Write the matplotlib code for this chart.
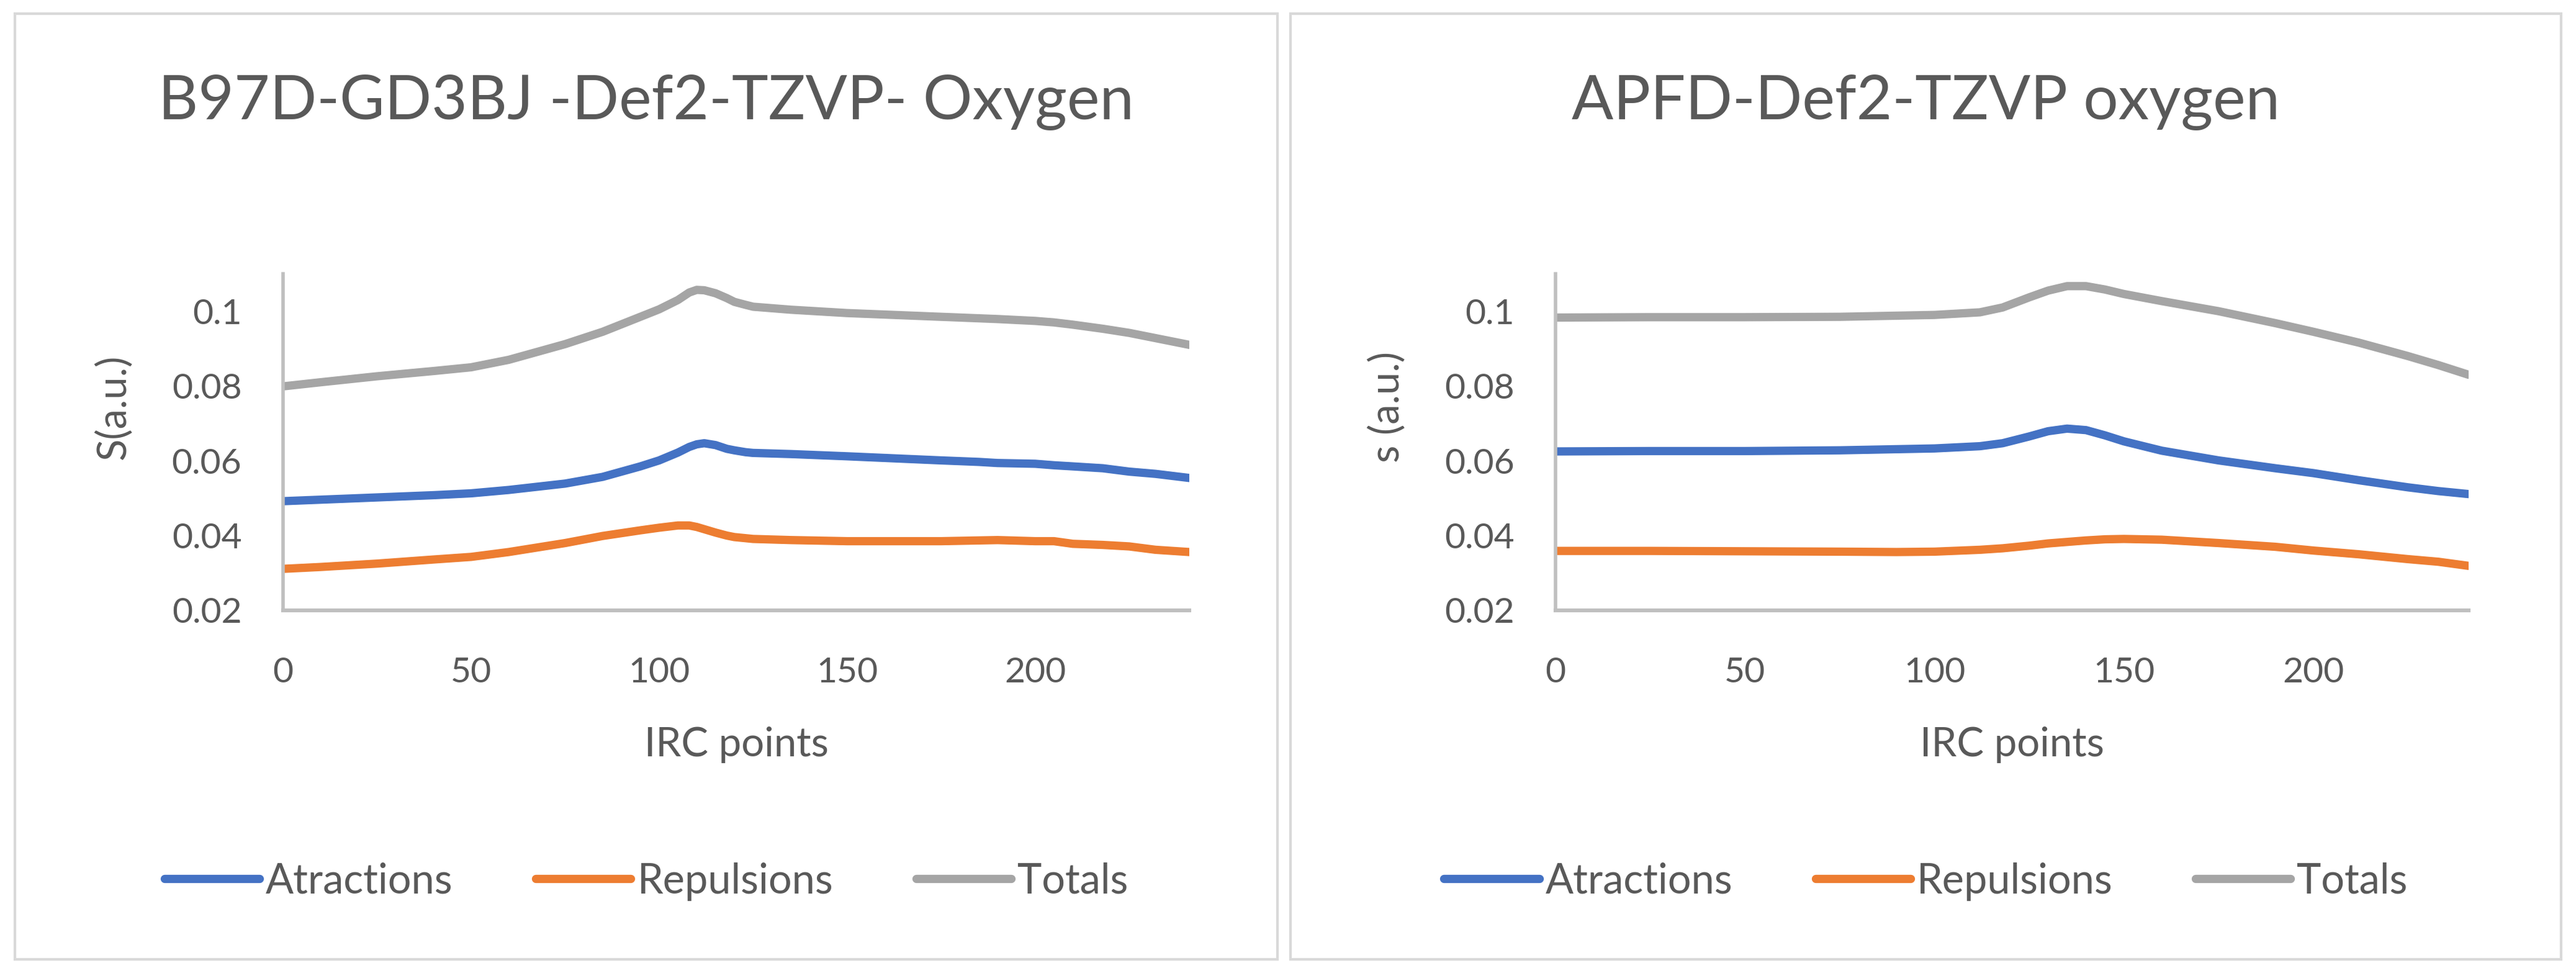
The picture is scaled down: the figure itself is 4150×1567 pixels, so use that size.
import matplotlib
matplotlib.use("Agg")
import matplotlib.pyplot as plt
from matplotlib.patches import Rectangle

plt.rcParams['font.family'] = ['Lato', 'DejaVu Sans']

# B97D-GD3BJ panel
x_b97 = [0, 10, 25, 40, 50, 60, 75, 85, 95, 100, 105, 108, 110, 112, 115, 118, 120,
         123, 125, 135, 150, 175, 185, 190, 200, 205, 210, 218, 225, 232, 241]
atr_b97 = [0.0492, 0.0496, 0.0502, 0.0508, 0.0513, 0.0522, 0.0539, 0.0557, 0.0585, 0.0601,
           0.0622, 0.0637, 0.0644, 0.0647, 0.0642, 0.0632, 0.0628, 0.0623, 0.0621, 0.0618,
           0.0612, 0.0601, 0.0597, 0.0594, 0.0592, 0.0588, 0.0585, 0.0580, 0.0571, 0.0565, 0.0554]
rep_b97 = [0.0311, 0.0316, 0.0325, 0.0336, 0.0343, 0.0356, 0.0380, 0.0399, 0.0414, 0.0421,
           0.0427, 0.0427, 0.0423, 0.0417, 0.0408, 0.0400, 0.0396, 0.0393, 0.0391, 0.0388,
           0.0385, 0.0385, 0.0387, 0.0388, 0.0385, 0.0385, 0.0378, 0.0375, 0.0371, 0.0362, 0.0356]
tot_b97 = [0.0799, 0.0810, 0.0826, 0.0840, 0.0850, 0.0870, 0.0912, 0.0945, 0.0985, 0.1005,
           0.1030, 0.1050, 0.1057, 0.1056, 0.1048, 0.1035, 0.1025, 0.1017, 0.1012, 0.1004,
           0.0995, 0.0985, 0.0981, 0.0979, 0.0974, 0.0970, 0.0964, 0.0953, 0.0942, 0.0928, 0.0910]

# APFD panel
x_apfd = [0, 25, 50, 75, 90, 100, 112, 118, 125, 130, 135, 140, 145, 150, 160, 175,
          190, 200, 212, 225, 233, 241]
atr_apfd = [0.0625, 0.0626, 0.0626, 0.0628, 0.0631, 0.0633, 0.0639, 0.0647, 0.0665, 0.0679,
            0.0686, 0.0682, 0.0668, 0.0652, 0.0627, 0.0601, 0.0580, 0.0567, 0.0548, 0.0529,
            0.0519, 0.0511]
rep_apfd = [0.0359, 0.0359, 0.0358, 0.0357, 0.0356, 0.0357, 0.0362, 0.0366, 0.0373, 0.0379,
            0.0383, 0.0387, 0.0390, 0.0391, 0.0389, 0.0380, 0.0370, 0.0360, 0.0350, 0.0337,
            0.0330, 0.0319]
tot_apfd = [0.0983, 0.0984, 0.0984, 0.0985, 0.0988, 0.0990, 0.0997, 0.1010, 0.1037, 0.1055,
            0.1067, 0.1067, 0.1058, 0.1046, 0.1027, 0.1000, 0.0968, 0.0945, 0.0916, 0.0880,
            0.0856, 0.0830]

series_names = ['Atractions', 'Repulsions', 'Totals']
colors = ['#4472C4', '#ED7D31', '#A5A5A5']
x_ticks = [0, 50, 100, 150, 200]
y_ticks = [0.02, 0.04, 0.06, 0.08, 0.1]
y_tick_labels = ['0.02', '0.04', '0.06', '0.08', '0.1']

text_col = '#595959'

fig = plt.figure(figsize=(20.75, 7.835), dpi=200)

panels = [
    dict(title='B97D-GD3BJ -Def2-TZVP- Oxygen', ylabel='S(a.u.)', x=x_b97,
         ys=[atr_b97, rep_b97, tot_b97], rect=[0.1099, 0.3727, 0.3518, 0.3459],
         box=(0.0058, 0.4959), ylab_x=-0.188),
    dict(title='APFD-Def2-TZVP oxygen', ylabel='s (a.u.)', x=x_apfd,
         ys=[atr_apfd, rep_apfd, tot_apfd], rect=[0.6039, 0.3727, 0.3544, 0.3459],
         box=(0.5010, 0.9942), ylab_x=-0.185),
]

for p in panels:
    x0, x1 = p['box']
    fig.patches.append(Rectangle((x0, 0.014), x1 - x0, 0.972, transform=fig.transFigure,
                                 fill=False, edgecolor='#D9D9D9', linewidth=1.5))
    cx = (x0 + x1) / 2
    fig.text(cx, 0.895, p['title'], ha='center', va='center', fontsize=35.8, color=text_col)

    ax = fig.add_axes(p['rect'])
    for name, y, c in zip(series_names, p['ys'], colors):
        ax.plot(p['x'], y, color=c, linewidth=4.8, solid_capstyle='round', label=name)

    ax.set_xlim(0, 241)
    ax.set_ylim(0.02, 0.11)
    ax.set_xticks(x_ticks)
    ax.set_yticks(y_ticks)
    ax.set_yticklabels(y_tick_labels)
    ax.tick_params(length=0, labelsize=20.5, colors=text_col)
    ax.tick_params(axis='x', pad=27)
    ax.tick_params(axis='y', pad=24)
    for s in ['top', 'right']:
        ax.spines[s].set_visible(False)
    ax.spines['left'].set_color('#BFBFBF')
    ax.spines['left'].set_linewidth(2)
    ax.spines['bottom'].set_color('#BFBFBF')
    ax.spines['bottom'].set_linewidth(2.2)

    ax.set_xlabel('IRC points', fontsize=23.5, color=text_col)
    ax.xaxis.set_label_coords(0.5, -0.40)
    ax.xaxis.label.set_va('center')
    ax.set_ylabel(p['ylabel'], fontsize=23.5, color=text_col)
    ax.yaxis.set_label_coords(p['ylab_x'], 0.605)
    ax.yaxis.label.set_va('center')

    fig.legend(*ax.get_legend_handles_labels(), loc='center', bbox_to_anchor=(cx, 0.094),
               ncol=3, frameon=False, fontsize=24, labelcolor=text_col,
               handlelength=2.3, handletextpad=0.15, columnspacing=2.0)

fig.savefig('out.png', dpi=200, facecolor='white')
